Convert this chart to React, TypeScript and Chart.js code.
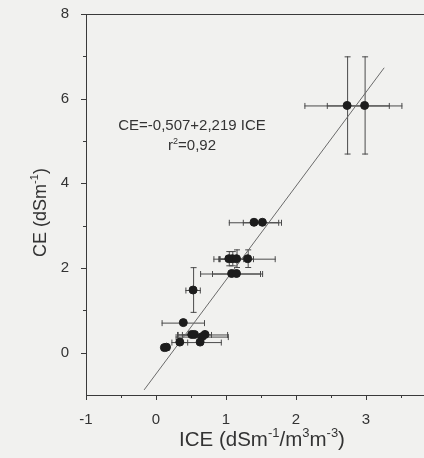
import React, { useEffect, useRef } from "react";
import { Chart, registerables } from "chart.js";

Chart.register(...registerables);

// ---- data ----
const iceX = [2.73, 2.98, 1.40, 1.52, 1.04, 1.09, 1.15, 1.31, 1.08, 1.15, 0.53, 0.39, 0.51, 0.55, 0.70, 0.66, 0.34, 0.63, 0.12, 0.15];
const ceY = [5.84, 5.84, 3.08, 3.08, 2.22, 2.22, 2.22, 2.22, 1.87, 1.87, 1.48, 0.71, 0.43, 0.43, 0.43, 0.38, 0.25, 0.25, 0.12, 0.13];
const iceErr = [0.61, 0.54, 0.36, 0.28, 0.22, 0.20, 0.25, 0.40, 0.45, 0.35, 0.11, 0.31, 0.20, 0.25, 0.33, 0.38, 0.12, 0.31, 0.04, 0.04];
const ceErr = [1.16, 1.16, 0.03, 0.03, 0.18, 0.18, 0.22, 0.22, 0.04, 0.04, 0.54, 0.04, 0.03, 0.03, 0.05, 0.05, 0.03, 0.03, 0.02, 0.02];

const fitX = [-0.17, 3.26];
const fitY = [-0.88, 6.73];

const xTickValues = [-1, 0, 1, 2, 3, 4];
const xMinorTicks = [-0.5, 0.5, 1.5, 2.5, 3.5];
const yTickValues = [0, 2, 4, 6, 8];
const yMinorTicks = [1, 3, 5, 7];

const equationText = "CE=-0,507+2,219 ICE";
const r2Parts = [{ t: "r" }, { t: "2", sup: true }, { t: "=0,92" }];
const xTitleParts = [
  { t: "ICE (dSm" }, { t: "-1", sup: true }, { t: "/m" }, { t: "3", sup: true },
  { t: "m" }, { t: "-3", sup: true }, { t: ")" },
];
const yTitleParts = [{ t: "CE (dSm" }, { t: "-1", sup: true }, { t: ")" }];

const FONT = "'Liberation Sans', Arial, 'Helvetica', sans-serif";
const INK = "#333333";
const AXIS = "#3a3a3a";

type Seg = { t: string; sup?: boolean };

function drawRich(ctx: CanvasRenderingContext2D, segs: Seg[], cx: number, baseline: number, size: number) {
  const supSize = Math.round(size * 0.62);
  let total = 0;
  const widths = segs.map((s) => {
    ctx.font = `${s.sup ? supSize : size}px ${FONT}`;
    const w = ctx.measureText(s.t).width;
    total += w;
    return w;
  });
  let x = cx - total / 2;
  ctx.textAlign = "left";
  ctx.textBaseline = "alphabetic";
  segs.forEach((s, i) => {
    ctx.font = `${s.sup ? supSize : size}px ${FONT}`;
    ctx.fillText(s.t, x, s.sup ? baseline - size * 0.42 : baseline);
    x += widths[i];
  });
}

const decorPlugin = {
  id: "decor",
  beforeDatasetsDraw(chart: any) {
    const { ctx, scales } = chart;
    const xs = scales.x;
    const ys = scales.y;
    ctx.save();
    ctx.strokeStyle = "#4a4a4a";
    ctx.lineWidth = 1;
    for (let i = 0; i < iceX.length; i++) {
      const px = xs.getPixelForValue(iceX[i]);
      const py = ys.getPixelForValue(ceY[i]);
      const x1 = xs.getPixelForValue(iceX[i] - iceErr[i]);
      const x2 = xs.getPixelForValue(iceX[i] + iceErr[i]);
      const y1 = ys.getPixelForValue(ceY[i] - ceErr[i]);
      const y2 = ys.getPixelForValue(ceY[i] + ceErr[i]);
      ctx.beginPath();
      ctx.moveTo(x1, py + 0.5);
      ctx.lineTo(x2, py + 0.5);
      ctx.moveTo(x1 + 0.5, py - 2.5);
      ctx.lineTo(x1 + 0.5, py + 3.5);
      ctx.moveTo(x2 - 0.5, py - 2.5);
      ctx.lineTo(x2 - 0.5, py + 3.5);
      ctx.moveTo(px + 0.5, y1);
      ctx.lineTo(px + 0.5, y2);
      ctx.moveTo(px - 2.5, y1 - 0.5);
      ctx.lineTo(px + 3.5, y1 - 0.5);
      ctx.moveTo(px - 2.5, y2 + 0.5);
      ctx.lineTo(px + 3.5, y2 + 0.5);
      ctx.stroke();
    }
    ctx.restore();
  },
  afterDraw(chart: any) {
    const { ctx, scales, chartArea } = chart;
    const xs = scales.x;
    const ys = scales.y;
    ctx.save();
    ctx.strokeStyle = AXIS;
    ctx.lineWidth = 1;
    // top frame line
    ctx.beginPath();
    ctx.moveTo(chartArea.left, Math.round(chartArea.top) + 0.5);
    ctx.lineTo(chartArea.right, Math.round(chartArea.top) + 0.5);
    ctx.stroke();
    // ticks (outward)
    const bottom = Math.round(chartArea.bottom);
    const left = Math.round(chartArea.left);
    ctx.beginPath();
    xTickValues.forEach((v) => {
      const p = Math.round(xs.getPixelForValue(v)) + 0.5;
      ctx.moveTo(p, bottom);
      ctx.lineTo(p, bottom + 5);
    });
    xMinorTicks.forEach((v) => {
      const p = Math.round(xs.getPixelForValue(v)) + 0.5;
      ctx.moveTo(p, bottom);
      ctx.lineTo(p, bottom + 3);
    });
    yTickValues.forEach((v) => {
      const p = Math.round(ys.getPixelForValue(v)) + 0.5;
      ctx.moveTo(left, p);
      ctx.lineTo(left - 5, p);
    });
    yMinorTicks.forEach((v) => {
      const p = Math.round(ys.getPixelForValue(v)) + 0.5;
      ctx.moveTo(left, p);
      ctx.lineTo(left - 3, p);
    });
    ctx.stroke();

    // annotation
    ctx.fillStyle = INK;
    ctx.font = `15px ${FONT}`;
    ctx.textAlign = "center";
    ctx.textBaseline = "alphabetic";
    ctx.fillText(equationText, 192, 130);
    drawRich(ctx, r2Parts, 192, 150, 15);

    // axis titles
    drawRich(ctx, xTitleParts, 262, 446, 20.5);
    ctx.save();
    ctx.translate(46, 212.5);
    ctx.rotate(-Math.PI / 2);
    drawRich(ctx, yTitleParts, 0, 0, 18);
    ctx.restore();
    ctx.restore();
  },
};

export default function App() {
  const ref = useRef<HTMLCanvasElement | null>(null);

  useEffect(() => {
    if (!ref.current) return;
    const points = iceX.map((x, i) => ({ x, y: ceY[i] }));
    const fit = fitX.map((x, i) => ({ x, y: fitY[i] }));
    const chart = new Chart(ref.current, {
      type: "scatter",
      data: {
        datasets: [
          {
            type: "line",
            data: fit,
            borderColor: "#6a6a6a",
            borderWidth: 1,
            pointRadius: 0,
            fill: false,
            order: 2,
          } as any,
          {
            data: points,
            backgroundColor: "#1c1c1c",
            borderColor: "#1c1c1c",
            pointRadius: 4,
            pointHoverRadius: 4,
            order: 1,
          },
        ],
      },
      options: {
        responsive: false,
        animation: false,
        events: [],
        layout: { padding: { top: 14, right: 14, left: 0, bottom: 0 } },
        plugins: {
          legend: { display: false },
          tooltip: { enabled: false },
          title: { display: false },
        },
        scales: {
          x: {
            type: "linear",
            min: -1,
            max: 4,
            grid: { display: false },
            border: { display: true, color: AXIS, width: 1 },
            afterBuildTicks: (s: any) => {
              s.ticks = xTickValues.map((v) => ({ value: v }));
            },
            afterFit: (s: any) => {
              s.height = 63;
              s.paddingLeft = 0;
              s.paddingRight = 0;
            },
            ticks: {
              color: INK,
              font: { family: FONT, size: 15 },
              padding: 8,
              maxRotation: 0,
              autoSkip: false,
              callback: (v: any) => String(v),
            },
          },
          y: {
            type: "linear",
            min: -1,
            max: 8,
            grid: { display: false },
            border: { display: true, color: AXIS, width: 1 },
            afterBuildTicks: (s: any) => {
              s.ticks = yTickValues.map((v) => ({ value: v }));
            },
            afterFit: (s: any) => {
              s.width = 86;
              s.paddingTop = 0;
              s.paddingBottom = 0;
            },
            ticks: {
              color: INK,
              font: { family: FONT, size: 15 },
              padding: 9,
              autoSkip: false,
              callback: (v: any) => String(v),
            },
          },
        },
      },
      plugins: [decorPlugin],
    });
    return () => chart.destroy();
  }, []);

  return (
    <div
      style={{
        position: "fixed",
        left: 0,
        top: 0,
        width: 424,
        height: 458,
        overflow: "hidden",
        background: "#f1f1ef",
      }}
    >
      <canvas ref={ref} width={450} height={458} style={{ display: "block" }} />
    </div>
  );
}
